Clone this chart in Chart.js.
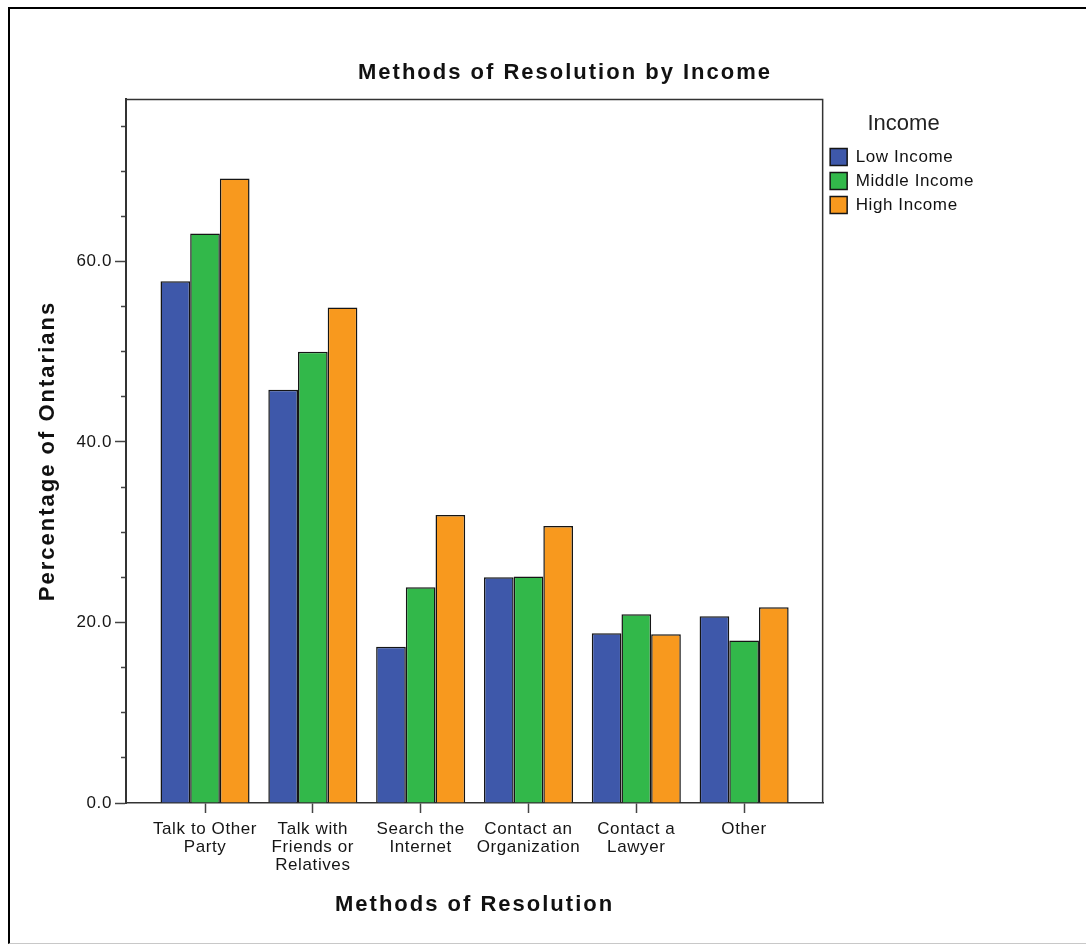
<!DOCTYPE html>
<html><head><meta charset="utf-8">
<script src="https://cdn.jsdelivr.net/npm/chart.js@4"></script>
<style>
html,body{margin:0;padding:0;background:#fff;overflow:hidden;width:1086px;height:945px}
#frame{position:absolute;left:8px;top:7px;width:1100px;height:934px;border-left:2px solid #000;border-top:2px solid #000;border-bottom:1px solid #c8c8c8;}
#c{position:absolute;left:30px;top:0;}
</style></head><body>
<div id="frame"></div>
<canvas id="c" width="1070" height="945"></canvas>
<script>
// ---- data ----
const categories = [["Talk to Other","Party"],["Talk with","Friends or","Relatives"],["Search the","Internet"],["Contact an","Organization"],["Contact a","Lawyer"],["Other"]];
const seriesNames = ["Low Income","Middle Income","High Income"];
const lowIncome = [57.8, 45.8, 17.3, 25.0, 18.8, 20.7];
const middleIncome = [63.1, 50.0, 23.9, 25.1, 20.9, 18.0];
const highIncome = [69.2, 54.9, 31.9, 30.7, 18.7, 21.7];
const yMajorValues = [0, 20, 40, 60];
const yTickLabels = ["0.0", "20.0", "40.0", "60.0"];
const seriesColors = ["#3e58aa", "#32b84a", "#f8991e"];

// wider glyph spacing like the original rendering
(function(){
  const P = CanvasRenderingContext2D.prototype;
  const oFill = P.fillText, oMeasure = P.measureText;
  function ls(font){ if (/bold/.test(font)) return '2px'; if (/17px/.test(font)) return '0.6px'; return '0px'; }
  P.fillText = function(){ if ('letterSpacing' in this) this.letterSpacing = ls(this.font); return oFill.apply(this, arguments); };
  P.measureText = function(){ if ('letterSpacing' in this) this.letterSpacing = ls(this.font); return oMeasure.apply(this, arguments); };
})();

Chart.defaults.font.family = "'Liberation Sans', Arial, sans-serif";
Chart.defaults.color = '#151515';

const frame = {
  id: 'frame',
  afterDatasetsDraw(chart) {
    const {ctx, chartArea: a} = chart;
    ctx.save();
    ctx.strokeStyle = '#333';
    ctx.lineWidth = 1.5;
    ctx.beginPath();
    ctx.moveTo(a.left, a.top + 0.5);
    ctx.lineTo(a.right - 0.5, a.top + 0.5);
    ctx.lineTo(a.right - 0.5, a.bottom);
    ctx.stroke();
    ctx.restore();
  }
};

const seriesValues = [lowIncome, middleIncome, highIncome];
new Chart(document.getElementById('c'), {
  type: 'bar',
  data: {
    datasets: seriesNames.map((name, k) => ({
      label: name,
      data: seriesValues[k].map((v, i) => ({x: i, y: v})),
      backgroundColor: seriesColors[k],
      borderColor: '#151515',
      borderWidth: 1.5,
      categoryPercentage: 0.826,
      barPercentage: 1.0
    }))
  },
  options: {
    responsive: false,
    animation: false,
    devicePixelRatio: 1,
    layout: { padding: 0 },
    plugins: {
      title: {
        display: true,
        text: 'Methods of Resolution by Income',
        font: { size: 22, weight: 'bold' },
        padding: { top: 60, bottom: 12.6 },
        color: '#111'
      },
      legend: {
        position: 'right',
        align: 'start',
        fullSize: false,
        title: { display: true, text: 'Income', font: { size: 22 }, padding: { top: 14, bottom: 2 }, color: '#222' },
        labels: { boxWidth: 17, boxHeight: 17, padding: 7, font: { size: 17 }, color: '#111' }
      },
      tooltip: { enabled: false }
    },
    scales: {
      x: {
        type: 'linear',
        bounds: 'data',
        offset: false,
        min: -0.733,
        max: 5.733,
        afterBuildTicks: (s) => { s.ticks = categories.map((_, i) => ({ value: i })); },
        afterFit: (s) => { s.height = 142; },
        ticks: {
          callback: (v, i) => categories[i],
          autoSkip: false, maxRotation: 0, minRotation: 0,
          padding: 7,
          font: { size: 17, lineHeight: 1.06 },
          color: '#151515'
        },
        grid: { offset: false, drawOnChartArea: false, tickLength: 10, tickColor: '#444', tickWidth: 1.5 },
        border: { color: '#333', width: 1.5 },
        title: { display: true, text: 'Methods of Resolution', font: { size: 22, weight: 'bold' }, padding: { top: 0, bottom: 27 }, color: '#111' }
      },
      y: {
        min: 0,
        max: 78,
        afterFit: (s) => { s.width = 96; },
        ticks: {
          stepSize: 5,
          includeBounds: false,
          padding: 3,
          font: { size: 17 },
          color: '#151515',
          callback: (v) => { const k = yMajorValues.indexOf(v); return k >= 0 ? yTickLabels[k] : ''; }
        },
        grid: {
          drawOnChartArea: false,
          tickLength: 11,
          tickColor: '#444',
          tickWidth: 1.5,
          tickBorderDash: (ctx) => (ctx.tick && yMajorValues.indexOf(ctx.tick.value) >= 0) ? [] : [0, 6, 5, 100]
        },
        border: { color: '#333', width: 2 },
        title: { display: true, text: 'Percentage of Ontarians', font: { size: 22, weight: 'bold' }, padding: { top: 5, bottom: 0 }, color: '#111' }
      },
      spacer: {
        type: 'linear',
        position: 'right',
        weight: 2000,
        display: true,
        afterFit: (s) => { s.width = 116; },
        ticks: { display: false },
        grid: { display: false, drawTicks: false },
        border: { display: false },
        title: { display: false }
      }
    }
  },
  plugins: [frame]
});
</script>
</body></html>
